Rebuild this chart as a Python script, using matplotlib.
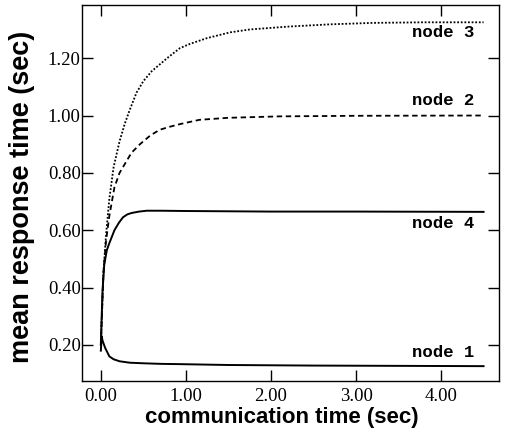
import numpy as np
import matplotlib.pyplot as plt

# curves
x_node3 = [0.0, 0.03, 0.06, 0.10, 0.15, 0.22, 0.28, 0.34, 0.42, 0.50, 0.60, 0.70,
           0.80, 0.93, 1.05, 1.25, 1.52, 1.75, 2.2, 2.7, 3.2, 3.8, 4.5]
y_node3 = [0.20, 0.45, 0.58, 0.71, 0.82, 0.91, 0.97, 1.02, 1.08, 1.12, 1.155, 1.18,
           1.205, 1.235, 1.25, 1.27, 1.29, 1.30, 1.31, 1.318, 1.323, 1.325, 1.325]

x_node2 = [0.0, 0.03, 0.06, 0.10, 0.16, 0.22, 0.28, 0.36, 0.46, 0.58, 0.69, 0.80,
           0.93, 1.16, 1.5, 2.1, 3.0, 4.5]
y_node2 = [0.20, 0.45, 0.56, 0.65, 0.75, 0.80, 0.83, 0.87, 0.90, 0.93, 0.95, 0.96,
           0.97, 0.985, 0.992, 0.997, 0.999, 1.0]

x_node4 = [0.0, 0.01, 0.02, 0.04, 0.07, 0.10, 0.16, 0.21, 0.26, 0.31, 0.36, 0.45,
           0.54, 0.7, 1.0, 2.0, 3.0, 4.5]
y_node4 = [0.20, 0.30, 0.39, 0.48, 0.53, 0.555, 0.60, 0.625, 0.645, 0.655, 0.66, 0.665,
           0.668, 0.668, 0.667, 0.665, 0.665, 0.664]

x_node1 = [0.0, 0.01, 0.02, 0.05, 0.10, 0.15, 0.22, 0.34, 0.5, 0.7, 0.93, 1.5, 2.5, 3.5, 4.5]
y_node1 = [0.18, 0.23, 0.215, 0.19, 0.16, 0.15, 0.143, 0.138, 0.136, 0.134, 0.133,
           0.13, 0.128, 0.127, 0.126]

x_ticks = [0, 1, 2, 3, 4]
x_labels = ['0.00', '1.00', '2.00', '3.00', '4.00']
y_ticks = [0.2, 0.4, 0.6, 0.8, 1.0, 1.2]
y_labels = ['0.20', '0.40', '0.60', '0.80', '1.00', '1.20']

node_names = ['node 3', 'node 2', 'node 4', 'node 1']
node_label_y = [1.288, 1.053, 0.625, 0.172]

fig = plt.figure(figsize=(5.07, 4.38), dpi=100)
ax = fig.add_axes([0.162, 0.130, 0.822, 0.859])

ax.plot(x_node3, y_node3, color='black', lw=1.3, linestyle=(0, (1, 1.0)))
ax.plot(x_node2, y_node2, color='black', lw=1.3, linestyle=(0, (3, 2)))
ax.plot(x_node4, y_node4, color='black', lw=1.4)
ax.plot(x_node1, y_node1, color='black', lw=1.4)

for name, yy in zip(node_names, node_label_y):
    ax.text(4.39, yy, name, ha='right', va='center', family='Liberation Mono',
            fontsize=12.5, fontweight='bold')

ax.set_xlim(-0.22, 4.68)
ax.set_ylim(0.074, 1.386)

ax.set_xticks(x_ticks)
ax.set_xticklabels(x_labels, family='Liberation Serif', fontsize=13.5)
ax.set_yticks(y_ticks)
ax.set_yticklabels(y_labels, family='Liberation Serif', fontsize=13.5)
ax.tick_params(direction='in', length=8, width=1, top=True, right=True, pad=1)
ax.tick_params(axis='x', pad=5)

for s in ax.spines.values():
    s.set_linewidth(1)

ax.set_xlabel('communication time (sec)', family='Liberation Sans', fontweight='bold',
              fontsize=16)
ax.set_ylabel('mean response time (sec)', family='Liberation Sans', fontweight='bold',
              fontsize=19.5)
ax.xaxis.set_label_coords(0.48, -0.07)
ax.yaxis.set_label_coords(-0.112, 0.49)

fig.savefig('out.png', dpi=100)
